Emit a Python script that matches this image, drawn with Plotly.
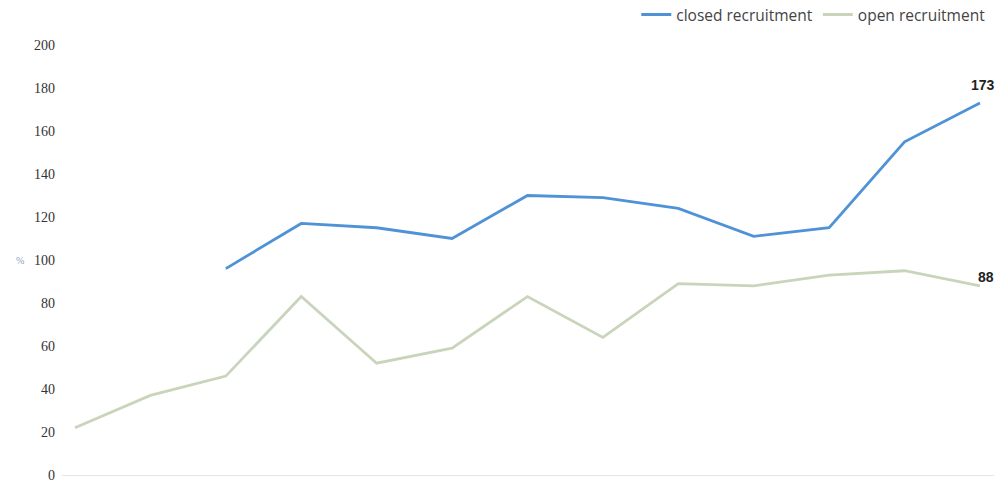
import plotly.graph_objects as go

# Period index (no category labels are shown on the axis)
periods = list(range(13))

# Values in %
closed_recruitment = [None, None, 96, 117, 115, 110, 130, 129, 124, 111, 115, 155, 173]
open_recruitment = [22, 37, 46, 83, 52, 59, 83, 64, 89, 88, 93, 95, 88]

y_ticks = [0, 20, 40, 60, 80, 100, 120, 140, 160, 180, 200]

fig = go.Figure()
fig.add_trace(go.Scatter(
    x=periods, y=closed_recruitment, mode="lines", name="closed recruitment",
    line=dict(color="#4f92d6", width=2.8), connectgaps=False,
))
fig.add_trace(go.Scatter(
    x=periods, y=open_recruitment, mode="lines", name="open recruitment",
    line=dict(color="#c9d5bb", width=2.8),
))

# End-of-line value labels
fig.add_annotation(x=periods[-1], y=closed_recruitment[-1], text="<b>%d</b>" % closed_recruitment[-1],
                   showarrow=False, yshift=18, xshift=3,
                   font=dict(family="Liberation Sans, Arial", size=14, color="#222222"))
fig.add_annotation(x=periods[-1], y=open_recruitment[-1], text="<b>%d</b>" % open_recruitment[-1],
                   showarrow=False, yshift=9, xshift=6,
                   font=dict(family="Liberation Sans, Arial", size=14, color="#222222"))

# Unit label beside the y axis
fig.add_annotation(xref="paper", yref="y", x=-0.052, y=100, text="%", showarrow=False,
                   font=dict(family="Liberation Serif", size=10, color="#8aa0c0"))

fig.update_layout(
    width=996, height=484,
    margin=dict(l=62, r=2, t=45, b=9, autoexpand=False),
    plot_bgcolor="white", paper_bgcolor="white",
    showlegend=True,
    legend=dict(orientation="h", x=0.996, xanchor="right", y=1.07, yanchor="middle",
                font=dict(family="Open Sans, Liberation Sans", size=15.5, color="#444444"),
                itemwidth=30, bgcolor="rgba(0,0,0,0)"),
    xaxis=dict(range=[-0.172, 12.186], showticklabels=False, showgrid=False, zeroline=False,
               showline=True, linecolor="#e6e6e6", linewidth=1, ticks=""),
    yaxis=dict(range=[0, 200], tickvals=y_ticks, showgrid=False, zeroline=False,
               showline=False, ticks="", ticklabelstandoff=6, automargin=False,
               ticklabeloverflow="allow",
               tickfont=dict(family="Liberation Serif, DejaVu Serif", size=14, color="#333333")),
)

fig.write_html("out.html")
